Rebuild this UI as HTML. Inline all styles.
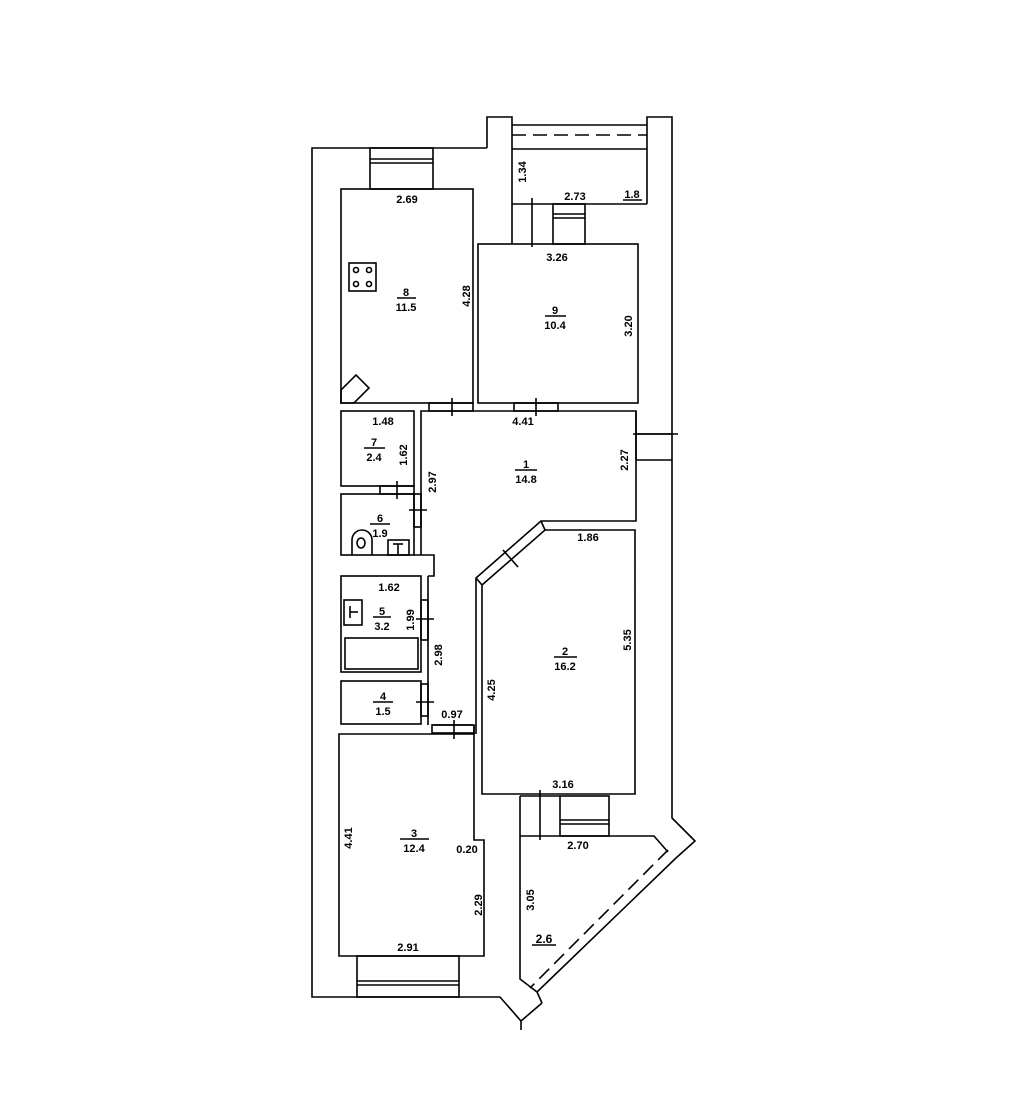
<!DOCTYPE html>
<html><head><meta charset="utf-8"><style>
html,body{margin:0;padding:0;background:#fff;}
svg{display:block;}
text{font-family:"Liberation Sans",sans-serif;font-size:11px;font-weight:bold;fill:#000;text-anchor:middle;}
</style></head><body>
<svg width="1024" height="1111" viewBox="0 0 1024 1111" xmlns="http://www.w3.org/2000/svg">
<g fill="none" stroke="#000" stroke-width="1.6">
<polyline points="487,148 312,148 312,997 500,997 521,1021 542,1003"/>
<polyline points="487,148 487,117 512,117 512,244"/>
<polyline points="647,204 647,117 672,117 672,818 695,841 676,858"/>
<line x1="512" y1="125" x2="647" y2="125"/>
<line x1="512" y1="135" x2="647" y2="135" stroke-dasharray="14,7"/>
<line x1="512" y1="149" x2="647" y2="149"/>
<line x1="512" y1="204" x2="647" y2="204"/>
<line x1="532" y1="198" x2="532" y2="247"/>
<rect x="553" y="204" width="32" height="40"/>
<line x1="553" y1="214" x2="585" y2="214"/><line x1="553" y1="218" x2="585" y2="218"/>
<rect x="370" y="148" width="63" height="41"/>
<line x1="370" y1="159" x2="433" y2="159"/><line x1="370" y1="163" x2="433" y2="163"/>
<rect x="341" y="189" width="132" height="214"/>
<rect x="349" y="263" width="27" height="28"/>
<circle cx="356" cy="270" r="2.5"/><circle cx="369" cy="270" r="2.5"/>
<circle cx="356" cy="284" r="2.5"/><circle cx="369" cy="284" r="2.5"/>
<polygon points="341,390 356,375 369,388 354,403 341,403"/>
<rect x="478" y="244" width="160" height="159"/>
<rect x="429" y="403" width="44" height="8"/>
<line x1="452" y1="398" x2="452" y2="416"/>
<rect x="514" y="403" width="44" height="8"/>
<line x1="536" y1="398" x2="536" y2="416"/>
<rect x="341" y="411" width="73" height="75"/>
<rect x="380" y="486" width="34" height="8"/>
<line x1="397" y1="481" x2="397" y2="499"/>
<rect x="341" y="494" width="73" height="61"/>
<rect x="414" y="494" width="7" height="33"/>
<line x1="409" y1="510" x2="427" y2="510"/>
<path d="M352,555 L352,540 A10,10 0 0 1 372,540 L372,555"/>
<ellipse cx="361" cy="543" rx="4" ry="5"/>
<rect x="388" y="540" width="21" height="15"/>
<line x1="398" y1="544" x2="398" y2="555"/><line x1="393" y1="544" x2="403" y2="544"/>
<polyline points="421,555 421,411 636,411 636,521 541,521 476,578 476,734"/>
<line x1="636" y1="434" x2="672" y2="434"/><line x1="636" y1="460" x2="672" y2="460"/>
<line x1="636" y1="411" x2="636" y2="460"/>
<line x1="633" y1="434" x2="678" y2="434"/>
<polyline points="414,555 434,555 434,576 428,576"/>
<polygon points="482,585 545,530 635,530 635,794 482,794"/>
<line x1="503" y1="550" x2="518" y2="567" />
<line x1="476" y1="578" x2="482" y2="585"/>
<line x1="541" y1="521" x2="545" y2="530"/>
<rect x="341" y="576" width="80" height="96"/>
<rect x="421" y="600" width="7" height="40"/>
<line x1="416" y1="619" x2="434" y2="619"/>
<rect x="344" y="600" width="18" height="25"/>
<line x1="350" y1="606" x2="350" y2="618"/><line x1="350" y1="612" x2="358" y2="612"/>
<rect x="345" y="638" width="73" height="31"/>
<line x1="428" y1="576" x2="428" y2="725"/>
<rect x="341" y="681" width="80" height="43"/>
<rect x="421" y="684" width="7" height="32"/>
<line x1="416" y1="702" x2="434" y2="702"/>
<polyline points="432,725 473,725"/>
<rect x="432" y="725" width="42" height="8"/>
<line x1="454" y1="720" x2="454" y2="739"/>
<polygon points="339,734 474,734 474,840 484,840 484,956 339,956"/>
<line x1="474" y1="725" x2="474" y2="734"/>
<rect x="357" y="956" width="102" height="41"/>
<line x1="357" y1="981" x2="459" y2="981"/><line x1="357" y1="985" x2="459" y2="985"/>
<polyline points="520,796 520,979 537,992"/>
<polyline points="520,836 654,836 668,852"/>
<line x1="668" y1="850" x2="530" y2="988" stroke-dasharray="14,7"/>
<line x1="676" y1="858" x2="537" y2="992"/>
<line x1="537" y1="992" x2="542" y2="1003"/>
<rect x="560" y="796" width="49" height="40"/>
<line x1="560" y1="820" x2="609" y2="820"/><line x1="560" y1="824" x2="609" y2="824"/>
<line x1="540" y1="790" x2="540" y2="840"/>
<line x1="520" y1="796" x2="560" y2="796"/>
<line x1="521" y1="1021" x2="521" y2="1030"/>
<line x1="397" y1="298" x2="416" y2="298"/>
<line x1="545" y1="316" x2="566" y2="316"/>
<line x1="623" y1="200" x2="642" y2="200"/>
<line x1="515" y1="470" x2="537" y2="470"/>
<line x1="364" y1="448" x2="385" y2="448"/>
<line x1="370" y1="524" x2="390" y2="524"/>
<line x1="373" y1="617" x2="391" y2="617"/>
<line x1="554" y1="657" x2="577" y2="657"/>
<line x1="373" y1="702" x2="393" y2="702"/>
<line x1="400" y1="839" x2="429" y2="839"/>
<line x1="532" y1="945" x2="556" y2="945"/>
</g>
<text x="407" y="203">2.69</text>
<text x="406" y="296">8</text><text x="406" y="311">11.5</text>
<text transform="translate(470,296) rotate(-90)">4.28</text>
<text transform="translate(526,172) rotate(-90)">1.34</text>
<text x="575" y="200">2.73</text>
<text x="632" y="198">1.8</text>
<text x="557" y="261">3.26</text>
<text x="555" y="314">9</text><text x="555" y="329">10.4</text>
<text transform="translate(632,326) rotate(-90)">3.20</text>
<text x="383" y="425">1.48</text>
<text x="523" y="425">4.41</text>
<text x="374" y="446">7</text><text x="374" y="461">2.4</text>
<text transform="translate(407,455) rotate(-90)">1.62</text>
<text transform="translate(436,482) rotate(-90)">2.97</text>
<text x="526" y="468">1</text><text x="526" y="483">14.8</text>
<text transform="translate(628,460) rotate(-90)">2.27</text>
<text x="380" y="522">6</text><text x="380" y="537">1.9</text>
<text x="588" y="541">1.86</text>
<text x="389" y="591">1.62</text>
<text x="382" y="615">5</text><text x="382" y="630">3.2</text>
<text transform="translate(414,620) rotate(-90)">1.99</text>
<text transform="translate(442,655) rotate(-90)">2.98</text>
<text x="565" y="655">2</text><text x="565" y="670">16.2</text>
<text transform="translate(631,640) rotate(-90)">5.35</text>
<text transform="translate(495,690) rotate(-90)">4.25</text>
<text x="383" y="700">4</text><text x="383" y="715">1.5</text>
<text x="452" y="718">0.97</text>
<text transform="translate(352,838) rotate(-90)">4.41</text>
<text x="414" y="837">3</text><text x="414" y="852">12.4</text>
<text x="467" y="853">0.20</text>
<text transform="translate(482,905) rotate(-90)">2.29</text>
<text x="408" y="951">2.91</text>
<text x="563" y="788">3.16</text>
<text x="578" y="849">2.70</text>
<text transform="translate(534,900) rotate(-90)">3.05</text>
<text x="544" y="943" style="font-size:12px">2.6</text>
</svg>
</body></html>
